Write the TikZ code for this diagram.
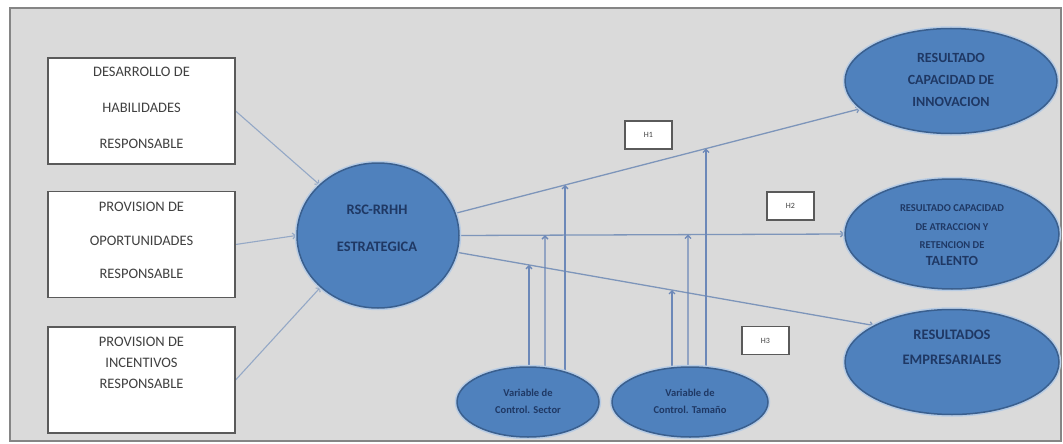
\documentclass[tikz,border=0pt]{standalone}
\usepackage{fontspec}
\setmainfont{Carlito}
\usetikzlibrary{shapes.geometric,arrows.meta,calc,backgrounds}

\definecolor{panel}{HTML}{DADADA}
\definecolor{frameline}{HTML}{858585}
\definecolor{boxline}{HTML}{5A5A5A}
\definecolor{boxtext}{HTML}{404040}
\definecolor{bubble}{HTML}{4F81BD}
\definecolor{bubbleline}{HTML}{3A5F8E}
\definecolor{halo}{HTML}{B8CCE4}
\definecolor{bubbletext}{HTML}{1F3864}
\definecolor{link}{HTML}{7D95BA}
\definecolor{inlink}{HTML}{94A8C6}
\definecolor{ctrllink}{HTML}{6C88B8}

\begin{document}
\begin{tikzpicture}[x=1pt,y=-1pt,
  boxnode/.style={draw=boxline, fill=white, line width=1.2pt,
    minimum width=187pt, minimum height=106pt, inner sep=0pt},
  boxtxt/.style={text=boxtext, align=center, inner sep=0pt},
  bubblenode/.style={ellipse, fill=bubble, draw=bubbleline, line width=1.5pt,
    inner sep=0pt, preaction={draw=halo, line width=4.5pt}},
  bubbletxt/.style={text=bubbletext, align=center, inner sep=0pt},
  hbox/.style={draw=boxline, fill=white, line width=1.2pt, text=boxtext,
    minimum width=47pt, minimum height=28pt, inner sep=0pt,
    font=\fontsize{8}{9}\selectfont},
  tip/.style={-{Straight Barb[length=3pt,width=6pt]}},
  inarrow/.style={tip, draw=inlink, line width=1.1pt},
  outarrow/.style={tip, draw=link, line width=1.3pt},
  ctrlarrow/.style={tip, draw=ctrllink, line width=1.3pt}]

\useasboundingbox (0,0) rectangle (1063,444);

% input constructs
\node[boxnode] (b1) at (141.5,111) {};
\node[boxnode] (b2) at (141.5,244.5) {};
\node[boxnode] (b3) at (141.5,380) {};
\node[boxtxt, font=\fontsize{14.5}{36}\selectfont] (t1) at (141.5,108)
  {DESARROLLO DE\\HABILIDADES\\RESPONSABLE};
\node[boxtxt, font=\fontsize{14.5}{33.5}\selectfont] (t2) at (141.5,240.5)
  {PROVISION DE\\OPORTUNIDADES\\RESPONSABLE};
\node[boxtxt, font=\fontsize{14.5}{21}\selectfont] (t3) at (141.5,363)
  {PROVISION DE\\INCENTIVOS\\RESPONSABLE};

% central construct
\node[bubblenode, minimum width=162pt, minimum height=145pt] (c) at (378,235.5) {};
\node[bubbletxt, font=\bfseries\fontsize{14.5}{37}\selectfont] (ct) at (377,228.5)
  {RSC-RRHH\\ESTRATEGICA};

% outcomes
\node[bubblenode, minimum width=212pt, minimum height=105pt] (e1) at (951,81) {};
\node[bubbletxt, font=\bfseries\fontsize{14}{22}\selectfont] (e1t) at (951,80)
  {RESULTADO\\CAPACIDAD DE\\INNOVACION};
\node[bubblenode, minimum width=214pt, minimum height=110pt] (e2) at (952,234) {};
\node[bubbletxt, font=\bfseries\fontsize{10.5}{18.5}\selectfont] (e2t) at (952,227)
  {RESULTADO CAPACIDAD\\DE ATRACCION Y\\RETENCION DE};
\node[bubbletxt, font=\bfseries\fontsize{14}{16}\selectfont] (e2u) at (952,261)
  {TALENTO};
\node[bubblenode, minimum width=214pt, minimum height=105pt] (e3) at (952,362) {};
\node[bubbletxt, font=\bfseries\fontsize{14.5}{25}\selectfont] (e3t) at (952,347.5)
  {RESULTADOS\\EMPRESARIALES};

% control variables
\node[bubblenode, minimum width=142pt, minimum height=70pt] (sA) at (528,402) {};
\node[bubbletxt, font=\bfseries\fontsize{10.5}{17}\selectfont] (sAt) at (528,401.5)
  {Variable de\\Control. Sector};
\node[bubblenode, minimum width=156pt, minimum height=70pt] (sB) at (690,402) {};
\node[bubbletxt, font=\bfseries\fontsize{10.5}{17}\selectfont] (sBt) at (690,401.5)
  {Variable de\\Control. Tamaño};

% hypothesis labels
\node[hbox] (h1) at (648.5,135) {H1};
\node[hbox] (h2) at (790.5,206) {H2};
\node[hbox] (h3) at (765.5,340.5) {H3};

% anchor points of the effect paths
\coordinate (p1s) at (c.16);
\coordinate (p1e) at (e1.197);
\coordinate (p2s) at (c.east);
\coordinate (p2e) at (e2.west);
\coordinate (p3s) at (c.-12);
\coordinate (p3e) at (e3.155);
\coordinate (vA1) at (529,0);
\coordinate (vA2) at (545,0);
\coordinate (vA3) at (565,0);
\coordinate (vB1) at (672,0);
\coordinate (vB2) at (688,0);
\coordinate (vB3) at (706,0);

\begin{scope}[on background layer]
  \draw[draw=frameline, fill=panel, line width=1.5pt] (10,8) rectangle (1061,441);

  \draw[inarrow] (b1.east) -- (c.139);
  \draw[inarrow] (b2.east) -- (c.west);
  \draw[inarrow] (b3.east) -- (c.222);

  \draw[outarrow] (p1s) -- (p1e);
  \draw[outarrow] (p2s) -- (p2e);
  \draw[outarrow] (p3s) -- (p3e);

  \draw[ctrlarrow] (sA.center -| vA1) -- (intersection cs: first line={(p3s)--(p3e)}, second line={(vA1)--(sA.center -| vA1)});
  \draw[ctrlarrow] (sA.center -| vA2) -- (intersection cs: first line={(p2s)--(p2e)}, second line={(vA2)--(sA.center -| vA2)});
  \draw[ctrlarrow] (sA.center -| vA3) -- (intersection cs: first line={(p1s)--(p1e)}, second line={(vA3)--(sA.center -| vA3)});
  \draw[ctrlarrow] (sB.center -| vB1) -- (intersection cs: first line={(p3s)--(p3e)}, second line={(vB1)--(sB.center -| vB1)});
  \draw[ctrlarrow] (sB.center -| vB2) -- (intersection cs: first line={(p2s)--(p2e)}, second line={(vB2)--(sB.center -| vB2)});
  \draw[ctrlarrow] (sB.center -| vB3) -- (intersection cs: first line={(p1s)--(p1e)}, second line={(vB3)--(sB.center -| vB3)});
\end{scope}
\end{tikzpicture}
\end{document}
